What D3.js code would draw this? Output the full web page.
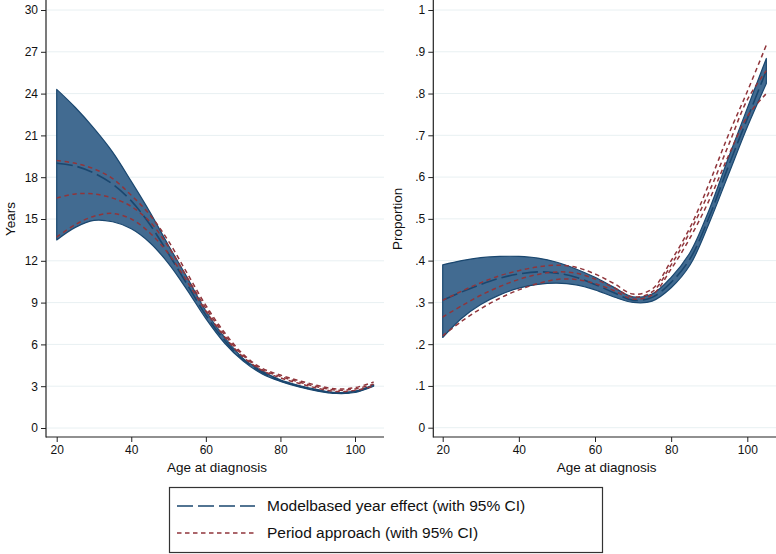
<!DOCTYPE html>
<html>
<head>
<meta charset="utf-8">
<script src="https://cdn.jsdelivr.net/npm/d3@7"></script>
<style>
  html, body { margin: 0; padding: 0; background: #ffffff; }
  svg { display: block; font-family: "Liberation Sans", Arial, Helvetica, sans-serif; }
</style>
</head>
<body>
<svg id="chart" width="776" height="554"></svg>
<script>
// ---------------- DATA ----------------
const ages = [20,25,30,35,40,45,50,55,60,65,70,75,80,85,90,95,100,105];

// Left panel: Years
const yearsModelEst = [19.0,18.8,18.3,17.5,16.3,14.6,12.5,10.3,8.1,6.3,4.9,4.0,3.4,3.0,2.7,2.5,2.6,3.05];
const yearsModelLo  = [13.5,14.4,14.9,14.8,14.3,13.3,11.8,9.9,7.85,6.1,4.8,3.9,3.35,2.95,2.65,2.48,2.55,3.0];
const yearsModelHi  = [24.3,23.0,21.5,19.8,17.7,15.5,13.1,10.8,8.4,6.5,5.0,4.1,3.45,3.05,2.75,2.55,2.65,3.1];
const yearsPeriodEst = [16.5,16.8,16.8,16.5,15.9,14.8,13.0,10.8,8.6,6.7,5.2,4.2,3.7,3.3,2.95,2.72,2.8,3.15];
const yearsPeriodLo  = [13.7,14.6,15.2,15.4,15.0,14.0,12.5,10.5,8.4,6.55,5.1,4.15,3.6,3.2,2.85,2.62,2.7,3.0];
const yearsPeriodHi  = [19.2,19.0,18.6,17.9,16.7,15.3,13.4,11.1,8.8,6.85,5.3,4.3,3.8,3.4,3.05,2.8,2.9,3.3];

// Right panel: Proportion
const propModelEst = [0.305,0.325,0.343,0.358,0.368,0.373,0.370,0.360,0.343,0.323,0.305,0.312,0.348,0.405,0.505,0.625,0.740,0.855];
const propModelLo  = [0.216,0.262,0.295,0.318,0.334,0.343,0.346,0.342,0.330,0.313,0.300,0.303,0.335,0.390,0.490,0.605,0.720,0.824];
const propModelHi  = [0.390,0.400,0.407,0.410,0.410,0.406,0.396,0.380,0.360,0.336,0.313,0.320,0.360,0.420,0.522,0.645,0.765,0.884];
const propPeriodEst = [0.265,0.292,0.317,0.338,0.355,0.367,0.373,0.370,0.356,0.335,0.313,0.325,0.390,0.470,0.565,0.675,0.785,0.855];
const propPeriodLo  = [0.220,0.255,0.285,0.310,0.330,0.345,0.355,0.355,0.345,0.328,0.308,0.318,0.380,0.455,0.545,0.650,0.745,0.800];
const propPeriodHi  = [0.305,0.327,0.347,0.364,0.376,0.385,0.389,0.384,0.368,0.345,0.320,0.332,0.400,0.480,0.585,0.700,0.805,0.916];

const xTicks = [20,40,60,80,100];
const yearsTicks = [0,3,6,9,12,15,18,21,24,27,30];
const propTicks = [0,0.1,0.2,0.3,0.4,0.5,0.6,0.7,0.8,0.9,1];
const propTickLabels = ["0",".1",".2",".3",".4",".5",".6",".7",".8",".9","1"];

const xTitle = "Age at diagnosis";
const legendLabels = ["Modelbased year effect (with 95% CI)", "Period approach (with 95% CI)"];

// ---------------- STYLE ----------------
const NAVY = "#1a476f";
const BAND = "#426b91";
const MAROON = "#90353b";
const GRID = "#e8f0f2";
const AXIS = "#222222";

const svg = d3.select("#chart");

function panel(opts) {
  const g = svg.append("g");
  const x = d3.scaleLinear().domain([20, 100]).range(opts.xRange);
  const y = d3.scaleLinear().domain(opts.yDomain).range(opts.yRange);
  const [left, right, top, bottom] = opts.frame;

  // gridlines
  g.append("g").selectAll("line").data(opts.yTicks).join("line")
    .attr("x1", left + 1).attr("x2", right)
    .attr("y1", d => y(d)).attr("y2", d => y(d))
    .attr("stroke", GRID).attr("stroke-width", 1);

  // y axis
  const yAxis = d3.axisLeft(y).tickValues(opts.yTicks).tickSize(5).tickPadding(3)
    .tickFormat((d, i) => opts.yLabels ? opts.yLabels[i] : d);
  const ya = g.append("g").attr("transform", `translate(${left},0)`).call(yAxis);
  ya.select(".domain").remove();
  ya.selectAll("line").attr("stroke", AXIS);
  ya.selectAll("text").attr("font-size", 12).attr("fill", "#111")
    .attr("font-family", "Liberation Sans, Arial, sans-serif");

  // x axis
  const xAxis = d3.axisBottom(x).tickValues(xTicks).tickSize(5).tickPadding(3);
  const xa = g.append("g").attr("transform", `translate(0,${bottom})`).call(xAxis);
  xa.select(".domain").remove();
  xa.selectAll("line").attr("stroke", AXIS);
  xa.selectAll("text").attr("font-size", 12).attr("fill", "#111")
    .attr("font-family", "Liberation Sans, Arial, sans-serif");

  // axis lines
  g.append("line").attr("x1", left).attr("x2", left).attr("y1", top).attr("y2", bottom + 0.5)
    .attr("stroke", AXIS).attr("stroke-width", 1.2);
  g.append("line").attr("x1", left).attr("x2", right).attr("y1", bottom).attr("y2", bottom)
    .attr("stroke", AXIS).attr("stroke-width", 1.2);

  // titles
  g.append("text").attr("x", (left + right) / 2 + 2).attr("y", bottom + 35)
    .attr("text-anchor", "middle").attr("font-size", 13.5).attr("fill", "#111").text(xTitle);
  g.append("text").attr("transform", `translate(${opts.yTitleX},${(y.range()[0] + y.range()[1]) / 2}) rotate(-90)`)
    .attr("text-anchor", "middle").attr("font-size", 13.5).attr("fill", "#111").text(opts.yTitle);

  const curve = d3.curveCatmullRom.alpha(0.5);
  const band = d3.area().x((d, i) => x(ages[i])).y0((d, i) => y(opts.mLo[i])).y1((d, i) => y(opts.mHi[i])).curve(curve);
  const line = d3.line().x((d, i) => x(ages[i])).y(d => y(d)).curve(curve);

  g.append("path").datum(ages).attr("d", band)
    .attr("fill", BAND).attr("stroke", NAVY).attr("stroke-width", 1.2).attr("stroke-linejoin", "round");

  g.append("path").datum(opts.mEst).attr("d", line)
    .attr("fill", "none").attr("stroke", NAVY).attr("stroke-width", 1.6)
    .attr("stroke-dasharray", "16,5");

  [opts.pHi, opts.pEst, opts.pLo].forEach(arr => {
    g.append("path").datum(arr).attr("d", line)
      .attr("fill", "none").attr("stroke", MAROON).attr("stroke-width", 1.5)
      .attr("stroke-dasharray", "4.5,3.5");
  });
}

panel({
  xRange: [56.7, 355], yDomain: [0, 30], yRange: [428, 10],
  frame: [46, 384, 0, 437],
  yTicks: yearsTicks, yLabels: null, yTitle: "Years", yTitleX: 15,
  mEst: yearsModelEst, mLo: yearsModelLo, mHi: yearsModelHi,
  pEst: yearsPeriodEst, pLo: yearsPeriodLo, pHi: yearsPeriodHi
});

panel({
  xRange: [442.7, 747.3], yDomain: [0, 1], yRange: [427.7, 10],
  frame: [433.3, 776, 0, 437],
  yTicks: propTicks, yLabels: propTickLabels, yTitle: "Proportion", yTitleX: 402,
  mEst: propModelEst, mLo: propModelLo, mHi: propModelHi,
  pEst: propPeriodEst, pLo: propPeriodLo, pHi: propPeriodHi
});

// ---------------- LEGEND ----------------
const lg = svg.append("g");
lg.append("rect").attr("x", 169.5).attr("y", 487.5).attr("width", 433).attr("height", 65)
  .attr("fill", "#fff").attr("stroke", "#333").attr("stroke-width", 1.2);
const rows = [
  { y: 506, color: NAVY, dash: "16,5", w: 1.6 },
  { y: 533, color: MAROON, dash: "4.5,3.5", w: 1.5 }
];
rows.forEach((r, i) => {
  lg.append("line").attr("x1", 177).attr("x2", 255).attr("y1", r.y).attr("y2", r.y)
    .attr("stroke", r.color).attr("stroke-width", r.w).attr("stroke-dasharray", r.dash);
  lg.append("text").attr("x", 267).attr("y", r.y).attr("dy", "0.35em")
    .attr("font-size", 15.5).attr("fill", "#111").text(legendLabels[i]);
});
</script>
</body>
</html>
